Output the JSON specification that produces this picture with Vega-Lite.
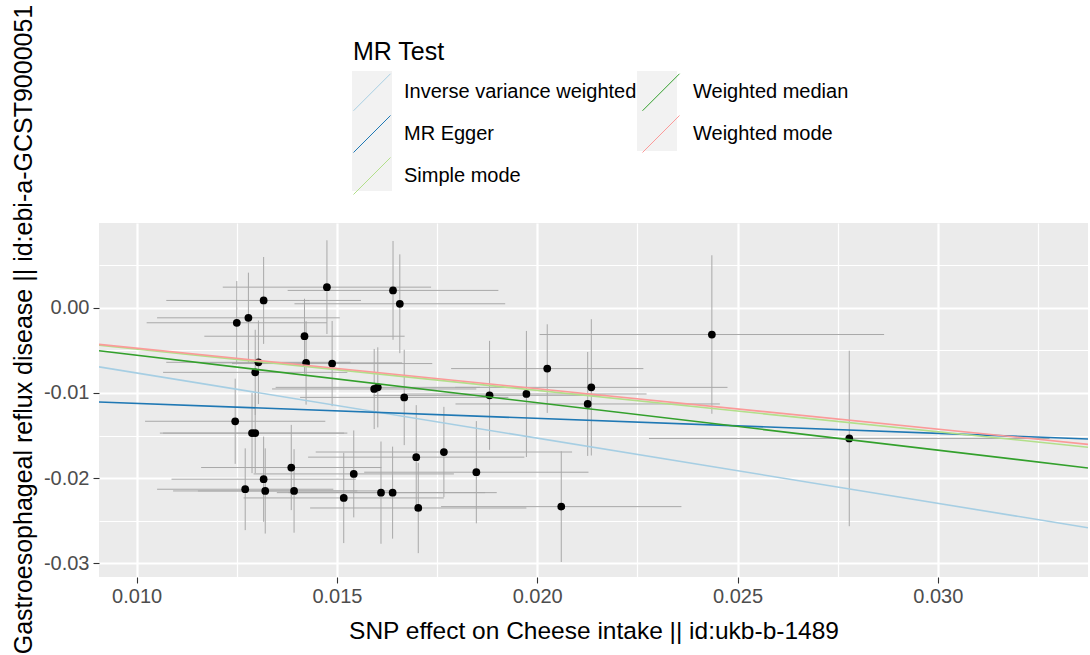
{
  "$schema": "https://vega.github.io/schema/vega-lite/v6.json",
  "width": 989,
  "height": 354,
  "autosize": {"type": "none"},
  "padding": {"left": 99, "top": 223, "right": 2, "bottom": 78},
  "background": "white",
  "config": {
    "view": {"fill": "#EBEBEB", "stroke": null},
    "font": "Liberation Sans"
  },
  "datasets": {
    "snps": [
      {"x": 0.0125, "y": -0.00176, "xlo": 0.01025, "xhi": 0.01475, "ylo": -0.00666, "yhi": 0.00314},
      {"x": 0.01279, "y": -0.00118, "xlo": 0.01051, "xhi": 0.01507, "ylo": -0.00648, "yhi": 0.00412},
      {"x": 0.01317, "y": 0.00086, "xlo": 0.01074, "xhi": 0.0156, "ylo": -0.00424, "yhi": 0.00596},
      {"x": 0.01475, "y": 0.00242, "xlo": 0.01215, "xhi": 0.01735, "ylo": -0.00308, "yhi": 0.00792},
      {"x": 0.0164, "y": 0.00204, "xlo": 0.01377, "xhi": 0.01903, "ylo": -0.00376, "yhi": 0.00784},
      {"x": 0.01657, "y": 0.00047, "xlo": 0.01394, "xhi": 0.0192, "ylo": -0.00533, "yhi": 0.00627},
      {"x": 0.01419, "y": -0.00334, "xlo": 0.01169, "xhi": 0.01669, "ylo": -0.00774, "yhi": 0.00106},
      {"x": 0.01304, "y": -0.0064, "xlo": 0.01074, "xhi": 0.01534, "ylo": -0.0113, "yhi": -0.0015},
      {"x": 0.01296, "y": -0.00758, "xlo": 0.01066, "xhi": 0.01526, "ylo": -0.01258, "yhi": -0.00258},
      {"x": 0.01423, "y": -0.00647, "xlo": 0.01183, "xhi": 0.01663, "ylo": -0.01137, "yhi": -0.00157},
      {"x": 0.01488, "y": -0.00655, "xlo": 0.01238, "xhi": 0.01738, "ylo": -0.01155, "yhi": -0.00155},
      {"x": 0.01593, "y": -0.00953, "xlo": 0.01338, "xhi": 0.01848, "ylo": -0.01423, "yhi": -0.00483},
      {"x": 0.01602, "y": -0.00934, "xlo": 0.01347, "xhi": 0.01857, "ylo": -0.01404, "yhi": -0.00464},
      {"x": 0.01668, "y": -0.01052, "xlo": 0.01408, "xhi": 0.01928, "ylo": -0.01612, "yhi": -0.00492},
      {"x": 0.01246, "y": -0.01332, "xlo": 0.01021, "xhi": 0.01471, "ylo": -0.01832, "yhi": -0.00832},
      {"x": 0.01288, "y": -0.01471, "xlo": 0.01058, "xhi": 0.01518, "ylo": -0.01941, "yhi": -0.01001},
      {"x": 0.01296, "y": -0.01471, "xlo": 0.01066, "xhi": 0.01526, "ylo": -0.01941, "yhi": -0.01001},
      {"x": 0.01386, "y": -0.01875, "xlo": 0.01161, "xhi": 0.01611, "ylo": -0.02375, "yhi": -0.01375},
      {"x": 0.01317, "y": -0.02012, "xlo": 0.01087, "xhi": 0.01547, "ylo": -0.02512, "yhi": -0.01512},
      {"x": 0.01271, "y": -0.0213, "xlo": 0.01051, "xhi": 0.01491, "ylo": -0.0261, "yhi": -0.0165},
      {"x": 0.01321, "y": -0.0215, "xlo": 0.01091, "xhi": 0.01551, "ylo": -0.0265, "yhi": -0.0165},
      {"x": 0.01393, "y": -0.0215, "xlo": 0.01153, "xhi": 0.01633, "ylo": -0.0264, "yhi": -0.0166},
      {"x": 0.01517, "y": -0.02232, "xlo": 0.01267, "xhi": 0.01767, "ylo": -0.02762, "yhi": -0.01702},
      {"x": 0.01542, "y": -0.0195, "xlo": 0.01292, "xhi": 0.01792, "ylo": -0.0246, "yhi": -0.0144},
      {"x": 0.0161, "y": -0.0217, "xlo": 0.0135, "xhi": 0.0187, "ylo": -0.0277, "yhi": -0.0157},
      {"x": 0.01639, "y": -0.0217, "xlo": 0.01379, "xhi": 0.01899, "ylo": -0.0271, "yhi": -0.0163},
      {"x": 0.01698, "y": -0.01753, "xlo": 0.01428, "xhi": 0.01968, "ylo": -0.02363, "yhi": -0.01143},
      {"x": 0.01767, "y": -0.01693, "xlo": 0.01447, "xhi": 0.02087, "ylo": -0.02223, "yhi": -0.01163},
      {"x": 0.01703, "y": -0.0235, "xlo": 0.01433, "xhi": 0.01973, "ylo": -0.0288, "yhi": -0.0182},
      {"x": 0.01881, "y": -0.01028, "xlo": 0.01591, "xhi": 0.02171, "ylo": -0.01668, "yhi": -0.00388},
      {"x": 0.01973, "y": -0.01012, "xlo": 0.01673, "xhi": 0.02273, "ylo": -0.01752, "yhi": -0.00272},
      {"x": 0.02025, "y": -0.00714, "xlo": 0.01785, "xhi": 0.02265, "ylo": -0.01234, "yhi": -0.00194},
      {"x": 0.02135, "y": -0.00934, "xlo": 0.01795, "xhi": 0.02475, "ylo": -0.01734, "yhi": -0.00134},
      {"x": 0.02126, "y": -0.01129, "xlo": 0.01796, "xhi": 0.02456, "ylo": -0.01739, "yhi": -0.00519},
      {"x": 0.02436, "y": -0.00314, "xlo": 0.02006, "xhi": 0.02866, "ylo": -0.01244, "yhi": 0.00616},
      {"x": 0.01848, "y": -0.0193, "xlo": 0.01568, "xhi": 0.02128, "ylo": -0.0253, "yhi": -0.0133},
      {"x": 0.0206, "y": -0.02334, "xlo": 0.0176, "xhi": 0.0236, "ylo": -0.02984, "yhi": -0.01684},
      {"x": 0.02779, "y": -0.01534, "xlo": 0.02279, "xhi": 0.03279, "ylo": -0.02564, "yhi": -0.00504}
    ],
    "fits": [
      {"method": "Inverse variance weighted", "key": "k1", "x1": 0.00906, "y1": -0.00693, "x2": 0.03375, "y2": -0.02582},
      {"method": "MR Egger", "key": "k2", "x1": 0.00906, "y1": -0.01106, "x2": 0.03375, "y2": -0.0154},
      {"method": "Simple mode", "key": "k3", "x1": 0.00906, "y1": -0.00439, "x2": 0.03375, "y2": -0.01637},
      {"method": "Weighted median", "key": "k4", "x1": 0.00906, "y1": -0.005046, "x2": 0.03375, "y2": -0.0188},
      {"method": "Weighted mode", "key": "k5", "x1": 0.00906, "y1": -0.0043, "x2": 0.03375, "y2": -0.01603}
    ]
  },
  "layer": [
    {
      "data": {"name": "snps"},
      "mark": {"type": "rule", "color": "#A8A8A8", "strokeWidth": 1, "clip": true},
      "encoding": {
        "x": {
          "field": "x", "type": "quantitative",
          "scale": {"domain": [0.00906, 0.03375], "nice": false, "zero": false},
          "axis": {
            "title": "SNP effect on Cheese intake || id:ukb-b-1489",
            "titleFont": "Liberation Sans", "titleFontSize": 24.5, "titleFontWeight": "normal", "titleColor": "black",
            "titleX": 494.5, "titleY": 61, "titleAlign": "center", "titleBaseline": "alphabetic",
            "values": [0.01, 0.0125, 0.015, 0.0175, 0.02, 0.0225, 0.025, 0.0275, 0.03, 0.0325],
            "labelExpr": "abs(datum.value*200 - round(datum.value*200)) < 0.001 ? format(datum.value, '.3f') : ''",
            "labelFont": "Liberation Sans", "labelFontSize": 20, "labelColor": "#4D4D4D", "labelPadding": 3,
            "domain": false,
            "grid": true, "gridColor": "white",
            "gridWidth": {"condition": {"test": "abs(datum.value*200 - round(datum.value*200)) < 0.001", "value": 2.2}, "value": 1.2},
            "ticks": true, "tickColor": "#333333", "tickSize": 6, "tickWidth": 1.1,
            "tickOpacity": {"condition": {"test": "abs(datum.value*200 - round(datum.value*200)) < 0.001", "value": 1}, "value": 0}
          }
        },
        "y": {
          "field": "ylo", "type": "quantitative",
          "scale": {"domain": [-0.0316, 0.00995], "nice": false, "zero": false},
          "axis": {
            "title": "Gastroesophageal reflux disease || id:ebi-a-GCST9000051",
            "titleFont": "Liberation Sans", "titleFontSize": 25, "titleFontWeight": "normal", "titleColor": "black",
            "titleX": -68, "titleY": 106, "titleAngle": 270, "titleAlign": "center", "titleBaseline": "alphabetic",
            "values": [0.005, 0, -0.005, -0.01, -0.015, -0.02, -0.025, -0.03],
            "labelExpr": "abs(datum.value*100 - round(datum.value*100)) < 0.001 ? replace(format(datum.value, '.2f'), '\u2212', '-') : ''",
            "labelFont": "Liberation Sans", "labelFontSize": 20, "labelColor": "#4D4D4D", "labelPadding": 4,
            "domain": false,
            "grid": true, "gridColor": "white",
            "gridWidth": {"condition": {"test": "abs(datum.value*100 - round(datum.value*100)) < 0.001", "value": 2.2}, "value": 1.2},
            "ticks": true, "tickColor": "#333333", "tickSize": 6, "tickWidth": 1.1,
            "tickOpacity": {"condition": {"test": "abs(datum.value*100 - round(datum.value*100)) < 0.001", "value": 1}, "value": 0}
          }
        },
        "y2": {"field": "yhi"}
      }
    },
    {
      "data": {"name": "snps"},
      "mark": {"type": "rule", "color": "#A8A8A8", "strokeWidth": 1, "clip": true},
      "encoding": {
        "x": {"field": "xlo", "type": "quantitative", "title": "SNP effect on Cheese intake || id:ukb-b-1489"},
        "x2": {"field": "xhi"},
        "y": {"field": "y", "type": "quantitative", "title": "Gastroesophageal reflux disease || id:ebi-a-GCST9000051"}
      }
    },
    {
      "data": {"name": "snps"},
      "mark": {"type": "circle", "color": "black", "opacity": 1, "size": 60},
      "encoding": {
        "x": {"field": "x", "type": "quantitative", "title": "SNP effect on Cheese intake || id:ukb-b-1489"},
        "y": {"field": "y", "type": "quantitative", "title": "Gastroesophageal reflux disease || id:ebi-a-GCST9000051"}
      }
    },
    {
      "data": {"name": "fits"},
      "transform": [{"filter": "false"}],
      "mark": {"type": "square", "size": 0},
      "encoding": {
        "x": {"field": "x1", "type": "quantitative", "title": "SNP effect on Cheese intake || id:ukb-b-1489"},
        "y": {"field": "y1", "type": "quantitative", "title": "Gastroesophageal reflux disease || id:ebi-a-GCST9000051"},
        "fill": {
          "field": "key", "type": "nominal",
          "scale": {
            "domain": ["k1", "k2", "k3", "k4", "k5"],
            "range": ["#F2F2F2", "#F2F2F2", "#F2F2F2", "#F2F2F2", "#F2F2F2"]
          },
          "legend": {
            "orient": "none", "legendX": 253, "legendY": -152, "zindex": 0,
            "title": null,
            "labelExpr": "''",
            "labelFontSize": 20, "labelOffset": 12,
            "columns": 2, "columnPadding": 233, "rowPadding": 0,
            "symbolType": "square", "symbolSize": 1600, "symbolStrokeWidth": 0, "symbolOpacity": 1, "symbolFillColor": "#F2F2F2"
          }
        }
      }
    },
    {
      "data": {"name": "fits"},
      "mark": {"type": "rule", "strokeWidth": 1.6, "clip": true},
      "encoding": {
        "x": {"field": "x1", "type": "quantitative", "title": "SNP effect on Cheese intake || id:ukb-b-1489"},
        "y": {"field": "y1", "type": "quantitative", "title": "Gastroesophageal reflux disease || id:ebi-a-GCST9000051"},
        "x2": {"field": "x2"},
        "y2": {"field": "y2"},
        "color": {
          "field": "method", "type": "nominal",
          "scale": {
            "domain": ["Inverse variance weighted", "MR Egger", "Simple mode", "Weighted median", "Weighted mode"],
            "range": ["#A6CEE3", "#1F78B4", "#B2DF8A", "#33A02C", "#FB9A99"]
          },
          "legend": {
            "orient": "none", "legendX": 254, "legendY": -183, "zindex": 1,
            "title": "MR Test", "titleFont": "Liberation Sans", "titleFontSize": 25, "titleFontWeight": "normal", "titleColor": "black", "titlePadding": 8,
            "labelFont": "Liberation Sans", "labelFontSize": 20, "labelColor": "black", "labelOffset": 13, "labelLimit": 400,
            "columns": 2, "columnPadding": 3, "rowPadding": 0,
            "symbolType": "M-1,1L1,-1", "symbolSize": 1369, "symbolStrokeWidth": 1, "symbolOpacity": 1
          }
        }
      }
    }
  ]
}
